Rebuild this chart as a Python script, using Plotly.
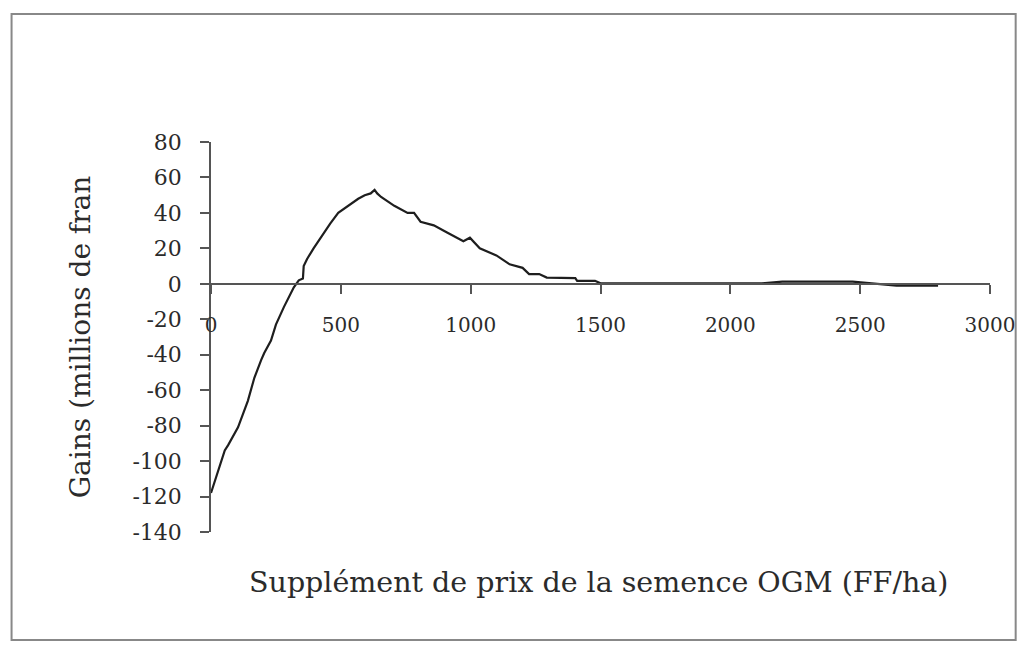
import plotly.graph_objects as go

# Data
supplement_ff_ha = [0, 28, 53, 66, 104, 142, 167, 193, 205, 231, 250, 281, 319, 338, 354, 357,
                    370, 395, 427, 459, 490, 529, 567, 592, 615, 630, 640, 655, 706, 757, 782,
                    807, 858, 909, 972, 997, 1035, 1099, 1150, 1200, 1225, 1264, 1293, 1403,
                    1410, 1479, 1500, 2122, 2200, 2471, 2560, 2640, 2800]
gains_millions = [-118, -105, -94, -91, -81, -66, -53, -43, -39, -32, -23, -13, -2, 2, 3, 10,
                  14, 20, 27, 34, 40, 44, 48, 50, 51, 53, 51, 49, 44, 40, 40,
                  35, 33, 29, 24, 26, 20, 16, 11, 9, 5.5, 5.5, 3.5, 3.2,
                  1.7, 1.7, 0.3, 0.3, 1.2, 1.2, 0, -1, -1]

x_ticks = [0, 500, 1000, 1500, 2000, 2500, 3000]
y_ticks = [80, 60, 40, 20, 0, -20, -40, -60, -80, -100, -120, -140]

x_title = "Supplément de prix de la semence OGM (FF/ha)"
y_title = "Gains (millions de fran"

Y_MIN, Y_MAX = -140, 80
FONT = "DejaVu Serif"
TXT = "#2b2b2b"

fig = go.Figure()
fig.add_trace(go.Scatter(
    x=supplement_ff_ha, y=gains_millions, mode="lines",
    line=dict(color="#1e1e1e", width=2.2), showlegend=False, hoverinfo="skip"))

zero_pos = (0 - Y_MIN) / (Y_MAX - Y_MIN)

fig.update_layout(
    width=1019, height=633,
    margin=dict(l=203, r=27, t=134, b=109),
    paper_bgcolor="white", plot_bgcolor="white",
    xaxis=dict(range=[0, 3000], tickvals=x_ticks, ticktext=[str(v) for v in x_ticks],
               showgrid=False, zeroline=False, showline=True, linecolor="#555", linewidth=1.5,
               ticks="outside", ticklen=9, tickcolor="#555", tickwidth=1.5,
               anchor="free", position=zero_pos, ticklabelstandoff=14,
               tickfont=dict(family=FONT, size=20, color=TXT)),
    yaxis=dict(range=[Y_MIN, Y_MAX], tickvals=y_ticks, ticktext=[str(v) for v in y_ticks],
               showgrid=False, zeroline=False, showline=True, linecolor="#555", linewidth=1.5,
               ticks="outside", ticklen=9, tickcolor="#555", tickwidth=1.5,
               ticklabelstandoff=14,
               tickfont=dict(family=FONT, size=22, color=TXT),
               title=dict(text=y_title, font=dict(family=FONT, size=28, color=TXT), standoff=34)),
    annotations=[dict(text=x_title, xref="paper", yref="paper", x=0.498, y=-0.13,
                      xanchor="center", yanchor="middle", showarrow=False,
                      font=dict(family=FONT, size=28.5, color=TXT))],
    shapes=[dict(type="rect", xref="paper", yref="paper",
                 x0=(1 - 203) / 789, x1=(1018 - 203) / 789,
                 y0=(524 - 632) / 390, y1=(524 - 6) / 390,
                 line=dict(color="#888", width=2), fillcolor="rgba(0,0,0,0)", layer="below")],
)

fig.write_html("out.html")
